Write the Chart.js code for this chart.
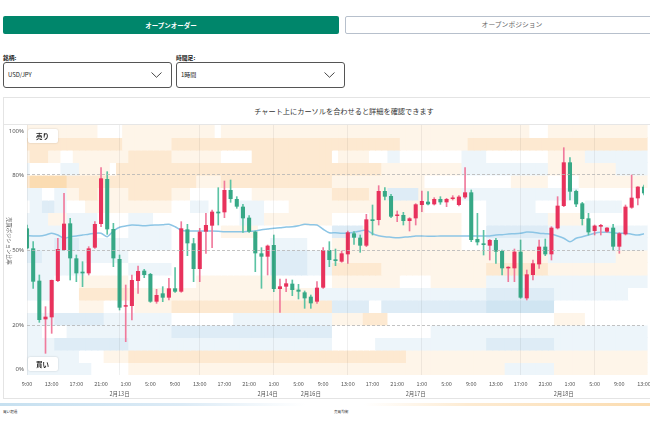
<!DOCTYPE html>
<html>
<head>
<meta charset="utf-8">
<script src="https://cdn.jsdelivr.net/npm/chart.js@4.4.1/dist/chart.umd.min.js"></script>
<style>
  html, body { margin: 0; padding: 0; background: #fff; overflow: hidden; }
  body { width: 650px; height: 439px; position: relative; font-family: "Noto Sans CJK JP", "Noto Sans", sans-serif; color: #222; }
  .btn { position: absolute; top: 16px; height: 18px; line-height: 18px; text-align: center; font-size: 6.5px; border-radius: 2px; box-sizing: border-box; }
  .btn.on { left: 3px; width: 336px; background: #00866b; color: #fff; font-weight: bold; }
  .btn.off { left: 345px; width: 334px; background: #fff; color: #666; border: 1.5px solid #b7c0cc; line-height: 15px; font-size: 6.8px; }
  .lbl { position: absolute; top: 53px; font-size: 5.8px; font-weight: bold; }
  .sel { position: absolute; top: 62px; width: 169px; height: 26px; box-sizing: border-box; border: 1px solid #555; border-radius: 3px; }
  .sel span { position: absolute; left: 4px; top: 0; line-height: 24px; font-size: 6px; }
  .sel svg { position: absolute; right: 9px; top: 9px; }
  #panel { position: absolute; left: 3px; top: 97px; width: 680px; height: 300px; border: 1px solid #e4e4e4; }
  #head { height: 26px; line-height: 26px; border-bottom: 1px solid #e6e6e6; text-align: center; font-size: 7.2px; color: #333; }
  #wrap { position: relative; width: 656px; height: 273px; }
  #bar { position: absolute; left: 0; top: 403px; width: 650px; height: 3px;
         background: linear-gradient(to right, #c6e0f0 0%, #dcebf6 28%, #ffffff 47%, #ffffff 56%, #fdebd2 72%, #fbdcb0 100%); }
  .leg { position: absolute; top: 409px; font-size: 3.6px; color: #333; }
</style>
</head>
<body>
<div class="btn on">オープンオーダー</div>
<div class="btn off">オープンポジション</div>
<div class="lbl" style="left:3px">銘柄:</div>
<div class="lbl" style="left:176px">時間足:</div>
<div class="sel" style="left:3px"><span>USD/JPY</span><svg width="11" height="6" viewBox="0 0 11 6"><path d="M0.5 0.5 L5.5 5.3 L10.5 0.5" fill="none" stroke="#333" stroke-width="0.9"/></svg></div>
<div class="sel" style="left:176px"><span>1時間</span><svg width="11" height="6" viewBox="0 0 11 6"><path d="M0.5 0.5 L5.5 5.3 L10.5 0.5" fill="none" stroke="#333" stroke-width="0.9"/></svg></div>
<div id="panel">
  <div id="head">チャート上にカーソルを合わせると詳細を確認できます</div>
  <div id="wrap"><canvas id="chart"></canvas></div>
</div>
<div id="bar"></div>
<div class="leg" style="left:3px">買い超過</div>
<div class="leg" style="left:334px">売買均衡</div>

<script>
// trading days: [date label, first hour, number of hourly candles]
const days = [
  ['2月12日', 9, 15], ['2月13日', 0, 24], ['2月14日', 0, 7],
  ['2月16日', 7, 17], ['2月17日', 0, 24], ['2月18日', 0, 14]
];

const opens = [
  154.140, 153.780, 153.198, 152.502, 152.538, 153.192, 153.750, 154.230, 153.600, 153.360,
  153.330, 153.792, 154.218, 155.028, 154.128, 153.588, 152.730, 152.742, 153.192, 153.378,
  153.318, 152.820, 152.970, 152.892, 153.060, 153.000, 154.122, 153.870, 153.408, 154.080,
  154.188, 154.440, 154.428, 154.830, 154.668, 154.530, 154.332, 154.080, 153.690, 153.630,
  153.840, 153.048, 153.090, 153.144, 153.036, 152.988, 152.910, 152.820, 153.072, 153.750,
  153.582, 153.540, 153.672, 154.050, 153.972, 153.828, 154.302, 154.290, 154.812, 154.722,
  154.362, 154.380, 154.272, 154.320, 154.560, 154.620, 154.572, 154.668, 154.608, 154.668,
  154.560, 154.698, 154.788, 153.948, 153.870, 153.828, 153.930, 153.732, 153.420, 153.420,
  153.720, 152.880, 153.300, 153.492, 153.810, 153.672, 154.140, 154.542, 155.328, 154.812,
  154.590, 154.320, 154.092, 154.170, 154.080, 154.152, 153.810, 154.032, 154.512, 154.680,
  154.890
];
const highs = [
  154.200, 153.900, 153.300, 152.730, 153.210, 153.960, 154.770, 154.320, 153.660, 153.540,
  153.810, 154.260, 155.232, 155.160, 154.230, 153.660, 153.120, 153.300, 153.462, 153.402,
  153.330, 153.042, 153.090, 153.240, 153.432, 154.260, 154.212, 153.960, 154.140, 154.410,
  154.470, 154.872, 154.992, 155.010, 154.710, 154.572, 154.368, 154.092, 153.792, 153.840,
  154.020, 153.228, 153.228, 153.210, 153.132, 153.012, 152.940, 153.180, 153.792, 153.900,
  153.768, 153.732, 154.092, 154.080, 154.020, 154.392, 154.560, 154.908, 154.872, 154.752,
  154.452, 154.428, 154.332, 154.584, 154.812, 154.800, 154.692, 154.710, 154.680, 154.728,
  154.728, 155.232, 154.830, 154.410, 154.104, 153.942, 153.960, 153.750, 153.450, 153.768,
  153.930, 153.390, 153.570, 153.930, 153.948, 154.170, 154.710, 155.592, 155.412, 154.830,
  154.608, 154.410, 154.200, 154.212, 154.152, 154.212, 154.062, 154.560, 155.100, 154.890,
  154.920
];
const lows = [
  153.768, 153.060, 152.448, 151.890, 152.250, 153.180, 153.750, 153.210, 153.180, 153.090,
  153.300, 153.780, 154.170, 154.032, 153.450, 152.670, 152.100, 152.490, 152.970, 153.252,
  152.808, 152.790, 152.820, 152.850, 152.988, 152.988, 153.648, 153.180, 153.180, 153.690,
  153.792, 154.200, 154.332, 154.608, 154.500, 154.068, 154.068, 153.360, 153.060, 153.300,
  153.000, 152.628, 153.000, 152.928, 152.868, 152.700, 152.700, 152.790, 153.060, 153.450,
  153.468, 153.528, 153.510, 153.852, 153.708, 153.810, 154.020, 154.200, 154.650, 154.332,
  154.260, 154.200, 154.092, 154.200, 154.440, 154.560, 154.560, 154.572, 154.530, 154.650,
  154.542, 154.680, 153.900, 153.840, 153.660, 153.570, 153.510, 153.300, 153.180, 153.180,
  152.880, 152.850, 153.210, 153.420, 153.648, 153.570, 154.128, 154.530, 154.650, 154.530,
  154.200, 154.020, 154.020, 154.020, 154.068, 153.750, 153.690, 154.020, 154.500, 154.560,
  154.740
];
const closes = [
  153.780, 153.180, 152.490, 152.550, 153.210, 153.768, 154.224, 153.600, 153.330, 153.330,
  153.780, 154.218, 155.040, 154.122, 153.600, 152.712, 152.754, 153.210, 153.372, 153.300,
  152.820, 152.940, 152.892, 153.060, 153.000, 154.140, 153.870, 153.408, 154.080, 154.200,
  154.440, 154.410, 154.830, 154.668, 154.530, 154.320, 154.080, 153.690, 153.630, 153.828,
  153.048, 153.096, 153.150, 153.030, 153.000, 152.880, 152.790, 153.072, 153.750, 153.570,
  153.552, 153.690, 154.068, 153.972, 153.828, 154.302, 154.272, 154.812, 154.710, 154.350,
  154.380, 154.272, 154.320, 154.572, 154.632, 154.572, 154.668, 154.608, 154.668, 154.692,
  154.710, 154.788, 153.930, 153.888, 153.840, 153.930, 153.720, 153.420, 153.438, 153.720,
  152.892, 153.312, 153.510, 153.810, 153.672, 154.152, 154.548, 155.328, 154.800, 154.572,
  154.308, 154.068, 154.188, 154.200, 154.152, 153.810, 154.050, 154.530, 154.692, 154.890,
  154.770
];

// 売り position ratio (%)
const sellRatio = [
  55.7, 55.6, 55.6, 56.0, 56.7, 56.0, 54.7, 55.3, 55.6, 56.0,
  56.3, 56.7, 56.7, 55.3, 57.6, 59.1, 59.6, 60.0, 59.9, 59.7,
  59.9, 60.0, 60.1, 60.3, 59.3, 57.9, 57.6, 57.6, 57.6, 57.6,
  57.6, 57.5, 57.3, 57.3, 57.3, 57.3, 57.5, 57.6, 58.1, 58.4,
  58.7, 58.9, 59.2, 59.3, 59.7, 60.3, 60.1, 60.0, 58.3, 56.9,
  56.9, 56.7, 56.8, 57.1, 57.6, 58.0, 56.5, 55.7, 55.3, 55.1,
  54.9, 55.1, 55.3, 55.6, 55.6, 55.5, 55.5, 55.6, 55.6, 55.6,
  55.6, 55.6, 55.6, 55.6, 55.6, 55.6, 56.0, 56.1, 56.4, 56.5,
  56.7, 57.2, 57.1, 56.7, 56.5, 56.3, 55.6, 54.7, 53.3, 54.7,
  55.3, 56.0, 56.7, 57.1, 57.1, 56.9, 56.7, 56.7, 56.3, 56.0,
  56.5
];

// heatmap rows, top (100-95%) to bottom (5-0%), run-length "level*count"
// levels: 3/2/1 orange (sell-heavy), 0 neutral, a/b/c blue (buy-heavy)
const heatRows = [
  '1*12 0*4 1*15 0*1 1*18 1*25 1*7 0*3 1*16',
  '2*16 1*8 2*26 2*11 1*11 2*29',
  '1*1 2*3 1*2 0*2 1*9 2*7 1*8 0*5 2*13 0*1 1*5 0*3 a*2 0*10 a*4 0*10 1*6 a*10',
  'a*1 0*5 a*3 1*5 0*1 2*9 2*26 2*8 1*13 a*4 a*10 1*11 a*5',
  '2*1 3*6 2*17 2*4 1*4 2*18 1*15 0*10 0*4 1*6 0*5 1*11',
  'a*3 0*2 a*2 1*2 2*3 1*5 2*7 1*3 0*10 1*13 2*6 1*3 b*5 1*7 a*4 a*15 0*11',
  '0*1 a*2 b*2 a*2 0*3 1*14 0*3 a*3 0*5 a*4 0*4 1*7 1*15 0*10 a*8 0*8 a*6 0*4',
  'a*4 1*3 a*5 0*5 a*4 0*3 0*11 a*4 1*11 0*6 1*15 0*4 a*10 1*6 0*10',
  'a*12 0*5 a*7 0*8 1*6 0*12 b*5 1*16 0*4 b*10 a*16',
  'a*5 b*4 a*15 0*16 a*6 0*4 1*21 0*4 a*26',
  'b*3 a*4 a*10 0*7 0*16 b*6 a*4 1*25 1*10 a*11 1*5',
  'a*10 0*7 a*7 0*16 b*6 a*4 2*8 1*17 2*10 1*16',
  'a*5 0*4 1*8 0*7 0*4 1*13 0*9 1*11 0*5 1*9 a*26',
  'a*5 0*4 2*8 1*7 1*23 a*3 a*25 b*11 a*12 0*3',
  '0*9 1*4 0*5 1*6 2*26 b*6 0*2 b*17 c*11 0*15',
  'a*5 b*8 a*11 0*10 a*16 1*5 2*4 0*16 0*11 1*5 0*10',
  'a*3 0*4 a*17 b*26 0*16 a*9 a*26',
  'a*5 b*12 a*7 a*26 0*7 a*18 b*11 a*15',
  'a*9 0*4 1*4 2*7 2*26 2*12 1*13 1*26',
  'a*11 0*6 1*7 1*26 1*25 1*3 a*8 1*15'
];
const heatStep = 5;

const yTicks = [0, 20, 50, 80, 100];
const yTitle = '売買ポジション比率';
const sellTag = '売り';
const buyTag = '買い';

const heatColors = { '3': '#fbdcb2', '2': '#fde9d1', '1': '#fef5e9', '0': '#ffffff', 'a': '#edf5fa', 'b': '#deecf6', 'c': '#d0e5f2' };
const upColor = '#e8325c', downColor = '#37a886';
const upWick = '#f07a9c', downWick = '#5cc3a4';

const categories = [];
days.forEach(([date, start, count]) => {
  for (let h = start; h < start + count; h++) {
    categories.push({ date, hour: h, first: h === start, name: date + ' ' + h + ':00' });
  }
});
const isHourTick = i => categories[i] && categories[i].hour % 4 === 1;

function expandRow(s) {
  return s.split(' ').flatMap(t => {
    const [v, n] = t.split('*');
    return Array(+n).fill(v);
  });
}

const heatDatasets = heatRows.map((row, r) => {
  const cells = expandRow(row);
  return {
    type: 'bar', yAxisID: 'y', order: 10, grouped: false,
    data: categories.map(() => [100 - heatStep * (r + 1), 100 - heatStep * r]),
    backgroundColor: categories.map((_, i) => heatColors[cells[i] || '0']),
    barPercentage: 1, categoryPercentage: 1, borderWidth: 0, inflateAmount: 0.5,
    clip: { left: 0, top: 0, right: 5, bottom: 0 }
  };
});

const isUp = i => closes[i] >= opens[i];

Chart.defaults.font.family = '"Noto Sans CJK JP", "Noto Sans", sans-serif';

const overlay = {
  id: 'overlay',
  afterDraw(chart) {
    const { ctx, chartArea: a, scales } = chart;
    ctx.save();
    ctx.fillStyle = '#555';
    ctx.font = '6px "Noto Sans", sans-serif';
    ctx.textAlign = 'right';
    ctx.textBaseline = 'middle';
    yTicks.forEach(v => {
      const py = Math.min(Math.max(scales.y.getPixelForValue(v), a.top + 6), a.bottom - 6);
      ctx.fillText(v + '%', a.left - 3, py);
    });

    ctx.save();
    ctx.translate(5, (a.top + a.bottom) / 2 - 9);
    ctx.rotate(Math.PI / 2);
    ctx.textAlign = 'center';
    ctx.font = '5.3px "Noto Sans CJK JP", sans-serif';
    ctx.fillText(yTitle, 0, 0);
    ctx.restore();

    const tag = (text, x, y) => {
      ctx.save();
      ctx.shadowColor = 'rgba(0,0,0,0.18)';
      ctx.shadowBlur = 2;
      ctx.fillStyle = '#fff';
      ctx.beginPath();
      ctx.roundRect(x, y, 30, 14, 2);
      ctx.fill();
      ctx.restore();
      ctx.fillStyle = '#222';
      ctx.font = 'bold 6.5px "Noto Sans CJK JP", sans-serif';
      ctx.textAlign = 'left';
      ctx.fillText(text, x + 8, y + 7.5);
    };
    tag(sellTag, a.left + 1, a.top + 4);
    tag(buyTag, a.left + 1, a.bottom - 18);
    ctx.restore();
  }
};

new Chart(document.getElementById('chart'), {
  type: 'bar',
  data: {
    labels: categories.map(c => c.name),
    datasets: [
      ...heatDatasets,
      {
        type: 'line', yAxisID: 'y', order: 3, data: sellRatio,
        borderColor: '#8cc5e5', borderWidth: 1.5, pointRadius: 0, tension: 0.25, fill: false
      },
      {
        type: 'bar', yAxisID: 'yp', order: 2, grouped: false,
        data: lows.map((l, i) => [l, highs[i]]),
        backgroundColor: opens.map((_, i) => isUp(i) ? upWick : downWick),
        barThickness: 1, borderWidth: 0
      },
      {
        type: 'bar', yAxisID: 'yp', order: 1, grouped: false,
        data: opens.map((o, i) => [o, closes[i]]),
        backgroundColor: opens.map((_, i) => isUp(i) ? upColor : downColor),
        barPercentage: 0.66, categoryPercentage: 1, minBarLength: 1.5, borderWidth: 0
      }
    ]
  },
  options: {
    responsive: true,
    maintainAspectRatio: false,
    animation: false,
    events: [],
    layout: { padding: { left: 0, right: 16, top: 0, bottom: 0 } },
    plugins: { legend: { display: false }, tooltip: { enabled: false } },
    scales: {
      x: {
        type: 'category',
        offset: false,
        grid: {
          offset: false, z: 1, drawTicks: false, lineWidth: 1,
          color: ctx => isHourTick(ctx.index) ? 'rgba(0,0,0,0.06)' : 'transparent'
        },
        border: { color: '#d8d8d8' },
        ticks: {
          autoSkip: false, maxRotation: 0, minRotation: 0, padding: 4, color: '#555',
          font: { size: 5.5, lineHeight: 1.8 },
          callback: (value, index) => {
            const c = categories[index];
            const hourLabel = c.hour % 4 === 1 ? c.hour + ':00' : null;
            const dateLabel = c.first && index > 0 ? c.date : null;
            if (hourLabel && dateLabel) return [hourLabel, dateLabel];
            if (dateLabel) return ['', dateLabel];
            return hourLabel;
          }
        },
        afterFit: s => { s.height = 23; }
      },
      y: {
        position: 'left', min: 0, max: 100,
        afterBuildTicks: s => { s.ticks = yTicks.map(v => ({ value: v })); },
        ticks: { display: false },
        grid: {
          z: 1, drawTicks: false, lineWidth: 0.8,
          color: ctx => (ctx.tick && ctx.tick.value > 0 && ctx.tick.value < 100) ? '#b4b4b4' : 'transparent'
        },
        border: { display: false, dash: [3, 2] },
        afterFit: s => { s.width = 23; }
      },
      yp: { display: false, min: 151.5, max: 156 }
    }
  },
  plugins: [overlay]
});
</script>
</body>
</html>
